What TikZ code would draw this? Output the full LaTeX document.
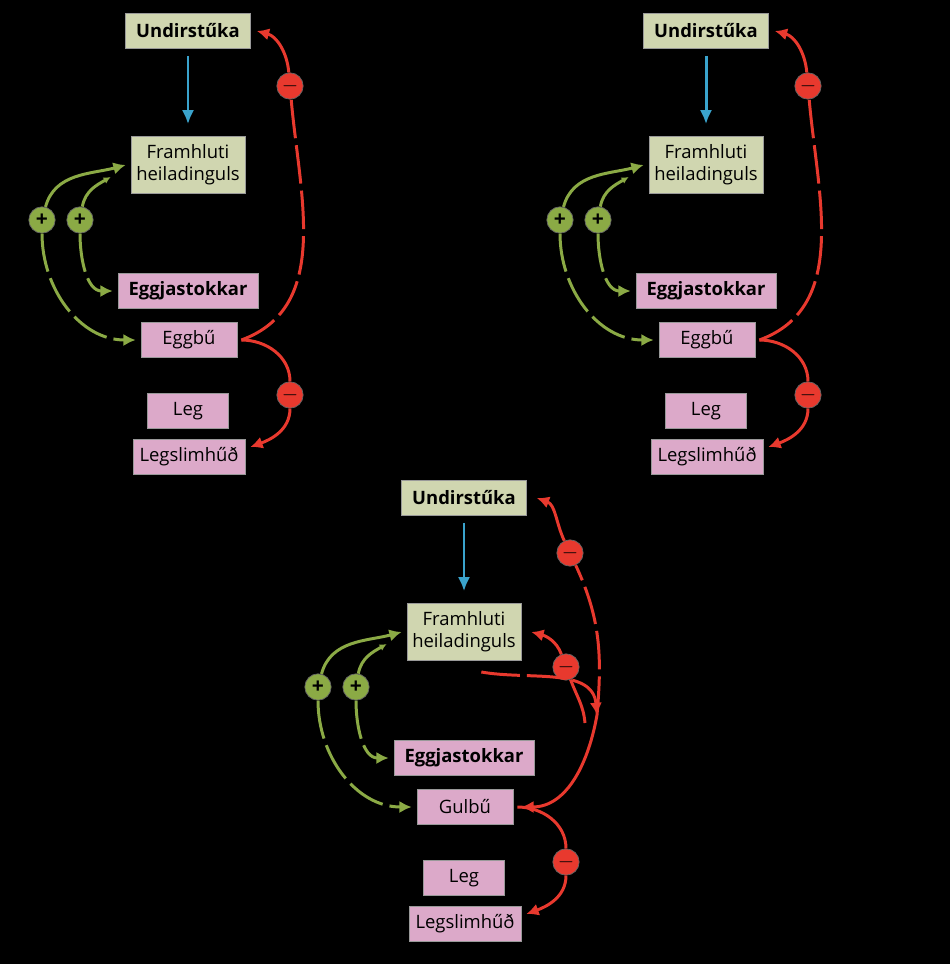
\documentclass[tikz,border=0pt]{standalone}
\usepackage{fontspec}
\setmainfont{Open Sans}
\usetikzlibrary{arrows.meta}

\definecolor{boxgreen}{HTML}{D0D6B0}
\definecolor{boxpink}{HTML}{DCA9C9}
\definecolor{arrred}{HTML}{E8392E}
\definecolor{arrgreen}{HTML}{8BAA45}
\definecolor{arrblue}{HTML}{3AA3CC}

\tikzset{
  box/.style={draw=black!40, minimum height=35*0.02cm, inner sep=0pt,
    font=\fontsize{10.5}{12.5}\selectfont, align=center},
  gbox/.style={box, fill=boxgreen},
  pbox/.style={box, fill=boxpink},
  red arrow/.style={draw=arrred, line width=1.7pt, -{Latex[length=7pt,width=7pt]}},
  green arrow/.style={draw=arrgreen, line width=1.7pt, -{Latex[length=7pt,width=7pt]}},
  long dash/.style={dash pattern=on 22pt off 4pt},
  plus/.style={circle, fill=arrgreen, draw=black!60, minimum size=15pt, inner sep=0pt,
    font=\bfseries\fontsize{12}{12}\selectfont},
  minus/.style={circle, fill=arrred, draw=black!60, minimum size=15pt, inner sep=0pt,
    font=\bfseries\fontsize{12}{12}\selectfont},
}

% one feedback panel: #1 prefix, #2 shift, #3 body label
\newcommand{\cyclepanel}[3]{%
  \begin{scope}[shift={#2}]
    % boxes
    \node[gbox, minimum width=125*0.02cm, font=\bfseries\fontsize{10.5}{12.5}\selectfont] (#1hyp) at (188,31) {Undirstűka};
    \node[gbox, minimum width=114*0.02cm, minimum height=57*0.02cm] (#1pit) at (188,165) {Framhluti\\heiladinguls};
    \node[pbox, minimum width=140*0.02cm, font=\bfseries\fontsize{10.5}{12.5}\selectfont] (#1ova) at (188,291) {Eggjastokkar};
    \node[pbox, minimum width=96*0.02cm] (#1fol) at (189,340) {#3};
    \node[pbox, minimum width=81*0.02cm] (#1ute) at (188,411) {Leg};
    \node[pbox, minimum width=112*0.02cm] (#1end) at (189,457) {Legslimhűð};

    % hypothalamus -> pituitary
    \draw[draw=arrblue, line width=1.7pt, -{Latex[length=8pt,width=7pt]}]
      ([yshift=-7*0.02cm]#1hyp.south) -- ([yshift=12*0.02cm]#1pit.north);

    % positive loops
    \node[plus] (#1pA) at (42,220) {+};
    \node[plus] (#1pB) at (80,220) {+};
    \draw[green arrow] (#1pA) to[out=75, in=195] ([xshift=-5*0.02cm]#1pit.west);
    \draw[green arrow, long dash] (#1pA) to[out=-90, in=180] ([xshift=-5*0.02cm]#1fol.west);
    \draw[green arrow, -{Latex[length=4pt,width=4pt]}] (#1pB) to[out=80, in=210] ([xshift=-20*0.02cm,yshift=-12*0.02cm]#1pit.west);
    \draw[green arrow, long dash] (#1pB) to[out=-90, in=180] ([xshift=-5*0.02cm]#1ova.west);

    % negative loop to endometrium
    \coordinate (#1split) at ([xshift=4*0.02cm]#1fol.east);
    \node[minus] (#1mB) at (290,395) {$-$};
    \draw[red arrow, -] (#1split) to[out=0, in=90] (#1mB);
    \draw[red arrow] (#1mB) to[out=-90, in=20] ([xshift=5*0.02cm,yshift=10*0.02cm]#1end.east);
  \end{scope}}

\begin{document}
\begin{tikzpicture}[x=0.02cm, y=-0.02cm]
  \fill[black] (0,0) rectangle (950,964);
  \useasboundingbox (0,0) rectangle (950,964);

  % top left and top right
  \cyclepanel{a}{(0,0)}{Eggbű}
  \cyclepanel{b}{(518,0)}{Eggbű}
  \foreach \p/\dx in {a/0, b/518} {
    \node[minus] (\p mA) at (290+\dx,86) {$-$};
    \draw[red arrow, -, long dash] (\p split) to[out=20, in=-85] (\p mA);
    \draw[red arrow] (\p mA) to[out=95, in=-15] ([xshift=6*0.02cm]\p hyp.east);
  }

  % bottom: corpus luteum
  \cyclepanel{c}{(276,467)}{Gulbű}
  \coordinate (cbend) at (597,715);
  \node[minus] (cmA) at (570,553) {$-$};
  \node[minus] (cmC) at (566,667) {$-$};
  \draw[red arrow] (cbend) to[out=-100, in=0] ([xshift=8*0.02cm]cfol.east);
  \draw[red arrow, -, long dash] (cbend) to[out=85, in=-65] (cmA);
  \draw[red arrow] (cmA) to[out=115, in=-20] ([xshift=10*0.02cm]chyp.east);
  \draw[red arrow, -] ([shift={(-12*0.02cm,-8*0.02cm)}]cbend) to[out=95, in=-70] (cmC);
  \draw[red arrow] (cmC) to[out=110, in=-15] ([xshift=10*0.02cm]cpit.east);
  \draw[red arrow, long dash] ([shift={(-40*0.02cm,-40*0.02cm)}]cpit.east) to[out=-10, in=95] (cbend);
\end{tikzpicture}
\end{document}
